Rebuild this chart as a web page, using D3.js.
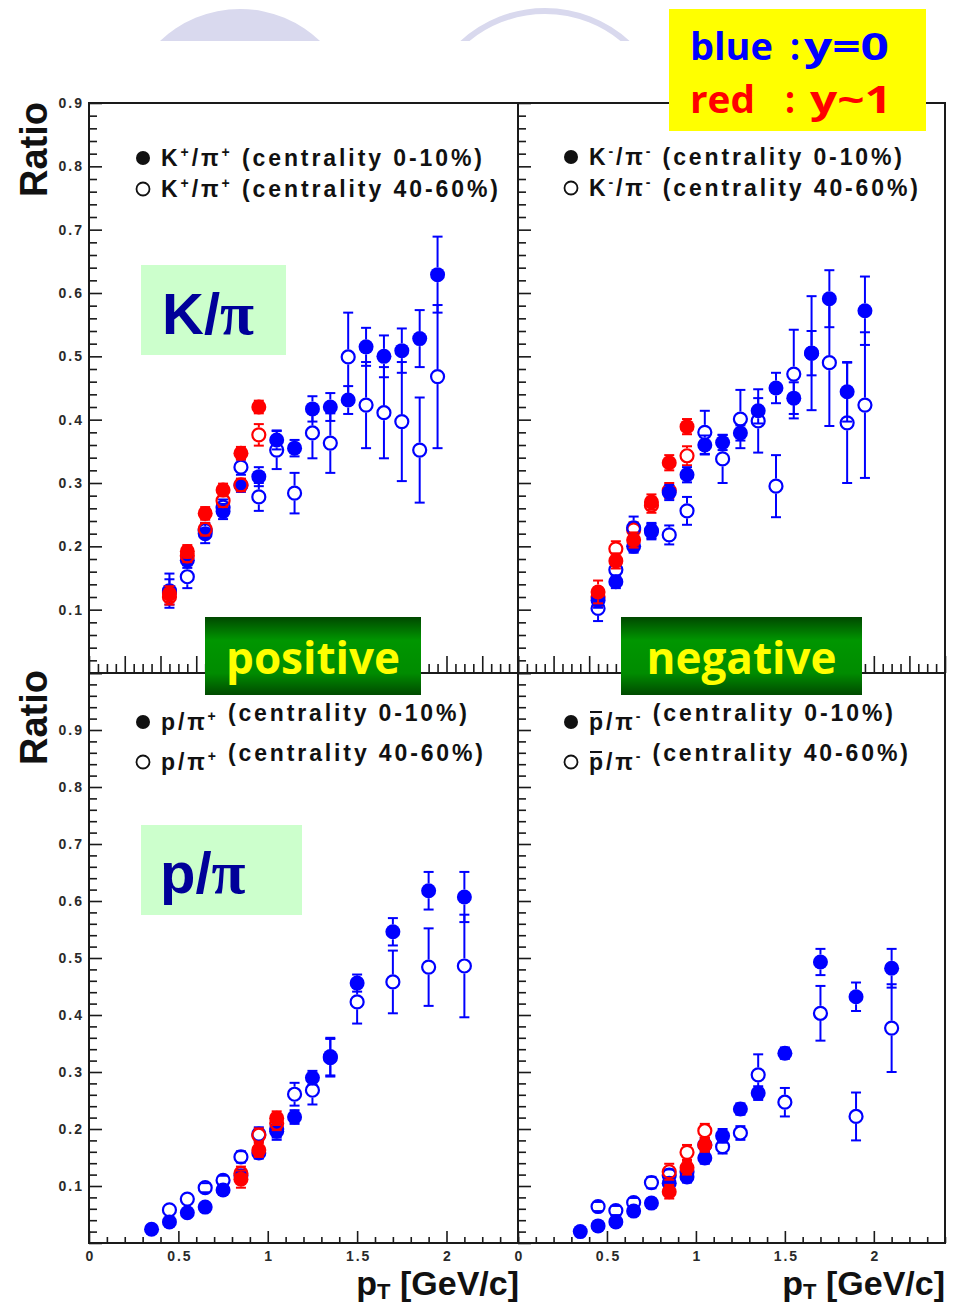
<!DOCTYPE html>
<html><head><meta charset="utf-8">
<script src="https://cdn.jsdelivr.net/npm/d3@7"></script>
<style>
html,body{margin:0;padding:0;background:#fff;}
svg{display:block;}
</style></head>
<body>
<svg id="chart" width="956" height="1305"></svg>
<script>
// ---------------- DATA ----------------
// transverse momentum bins [GeV/c]
const ptK = [0.45,0.55,0.65,0.75,0.85,0.95,1.05,1.15,1.25,1.35,1.45,1.55,1.65,1.75,1.85,1.95];
const ptKred = [0.45,0.55,0.65,0.75,0.85,0.95];
const ptP = [0.35,0.45,0.55,0.65,0.75,0.85,0.95,1.05,1.15,1.25,1.35,1.5,1.7,1.9,2.1];
const ptPopen = [0.45,0.55,0.65,0.75,0.85,0.95,1.05,1.15,1.25,1.35,1.5,1.7,1.9,2.1];
const ptPred = [0.85,0.95,1.05];

// K+/pi+  (y=0 blue, y~1 red)
const kPosCentral     = [0.130,0.178,0.220,0.255,0.296,0.310,0.368,0.355,0.417,0.420,0.431,0.515,0.500,0.509,0.528,0.629];
const kPosCentralErr  = [0.027,0.012,0.015,0.012,0.010,0.015,0.015,0.013,0.020,0.022,0.022,0.030,0.033,0.035,0.045,0.060];
const kPosPeriph      = [0.128,0.152,0.225,0.262,0.325,0.278,0.352,0.284,0.379,0.363,0.499,0.423,0.411,0.397,0.352,0.468];
const kPosPeriphErr   = [0.020,0.018,0.012,0.012,0.012,0.022,0.030,0.032,0.040,0.047,0.070,0.068,0.072,0.094,0.083,0.113];
const kPosCentralY1   = [0.125,0.192,0.252,0.289,0.347,0.420];
const kPosCentralY1Err= [0.012,0.010,0.010,0.010,0.010,0.010];
const kPosPeriphY1    = [0.120,0.185,0.227,0.272,0.297,0.376];
const kPosPeriphY1Err = [0.012,0.010,0.010,0.010,0.010,0.017];

// K-/pi-
const kNegCentral     = [0.115,0.144,0.200,0.223,0.285,0.313,0.360,0.364,0.379,0.414,0.450,0.434,0.505,0.591,0.444,0.572];
const kNegCentralErr  = [0.012,0.010,0.010,0.012,0.012,0.012,0.015,0.012,0.012,0.020,0.024,0.025,0.035,0.045,0.047,0.054];
const kNegPeriph      = [0.102,0.163,0.229,0.225,0.218,0.256,0.380,0.338,0.401,0.398,0.295,0.472,0.505,0.490,0.395,0.423];
const kNegPeriphErr   = [0.020,0.012,0.018,0.012,0.015,0.022,0.034,0.038,0.046,0.050,0.049,0.070,0.090,0.100,0.095,0.115];
const kNegCentralY1   = [0.128,0.177,0.210,0.270,0.332,0.389];
const kNegCentralY1Err= [0.018,0.012,0.012,0.012,0.012,0.012];
const kNegPeriphY1    = [0.120,0.196,0.226,0.265,0.288,0.343];
const kNegPeriphY1Err = [0.015,0.012,0.012,0.012,0.012,0.015];

// p/pi+
const pPosCentral     = [0.024,0.037,0.053,0.063,0.093,0.118,0.158,0.196,0.221,0.290,0.327,0.456,0.546,0.618,0.607];
const pPosCentralErr  = [0.005,0.006,0.006,0.006,0.008,0.010,0.010,0.015,0.012,0.012,0.033,0.015,0.024,0.033,0.044];
const pPosPeriph      = [0.058,0.077,0.097,0.110,0.151,0.191,0.200,0.261,0.268,0.325,0.423,0.458,0.484,0.486];
const pPosPeriphErr   = [0.006,0.007,0.008,0.008,0.010,0.012,0.015,0.020,0.025,0.033,0.038,0.055,0.068,0.090];
const pPosCentralY1   = [0.112,0.163,0.219];
const pPosCentralY1Err= [0.015,0.012,0.012];
const pPosPeriphY1    = [0.122,0.189,0.210];
const pPosPeriphY1Err = [0.012,0.012,0.012];

// pbar/pi-
const pNegCentral     = [0.020,0.030,0.037,0.056,0.070,0.105,0.116,0.149,0.188,0.235,0.263,0.333,0.493,0.432,0.482];
const pNegCentralErr  = [0.004,0.005,0.006,0.007,0.008,0.010,0.010,0.010,0.012,0.010,0.012,0.010,0.023,0.025,0.034];
const pNegPeriph      = [0.064,0.057,0.071,0.106,0.119,0.125,0.172,0.169,0.193,0.295,0.247,0.403,0.222,0.377];
const pNegPeriphErr   = [0.008,0.008,0.008,0.010,0.010,0.010,0.012,0.012,0.012,0.036,0.025,0.048,0.042,0.077];
const pNegCentralY1   = [0.090,0.132,0.172];
const pNegCentralY1Err= [0.012,0.012,0.012];
const pNegPeriphY1    = [0.125,0.159,0.197];
const pNegPeriphY1Err = [0.014,0.013,0.012];

// axis tick labels
const yTickLabelsTop = [0.1,0.2,0.3,0.4,0.5,0.6,0.7,0.8,0.9];
const yTickLabelsBottom = [0.1,0.2,0.3,0.4,0.5,0.6,0.7,0.8,0.9];
const xTickLabels = [0,0.5,1,1.5,2];

// legend texts
const legendTL = [["K","+","/π","+"," (centrality 0-10%)"],["K","+","/π","+"," (centrality 40-60%)"]];
const legendTR = [["K","-","/π","-"," (centrality 0-10%)"],["K","-","/π","-"," (centrality 40-60%)"]];
const legendBL = [["p/π","+",""," ","(centrality 0-10%)"],["p/π","+",""," ","(centrality 40-60%)"]];
const legendBR = [["p/π","-",""," ","(centrality 0-10%)"],["p/π","-",""," ","(centrality 40-60%)"]];

// ---------------- DRAW ----------------
const svg = d3.select("#chart");
const BLUE = "#0000ff", RED = "#ff0000";
const SANS = "'Liberation Sans', Arial, Helvetica, sans-serif";
const defs = svg.append("defs");
const grad = defs.append("linearGradient").attr("id","greenGrad").attr("x1",0).attr("x2",0).attr("y1",0).attr("y2",1);
grad.append("stop").attr("offset","0%").attr("stop-color","#004800");
grad.append("stop").attr("offset","30%").attr("stop-color","#009600");
grad.append("stop").attr("offset","72%").attr("stop-color","#008c00");
grad.append("stop").attr("offset","100%").attr("stop-color","#004a00");

// top decoration
const clip = defs.append("clipPath").attr("id","decoClip");
clip.append("rect").attr("x",0).attr("y",0).attr("width",956).attr("height",41);
const deco = svg.append("g").attr("clip-path","url(#decoClip)");
deco.append("circle").attr("cx",240).attr("cy",125).attr("r",116).attr("fill","#d9d9ee");
deco.append("circle").attr("cx",545).attr("cy",133).attr("r",122).attr("fill","none").attr("stroke","#d9d9ee").attr("stroke-width",6);

const X0L = 89, X1L = 518, X0R = 518, X1R = 945;
const YT = 103, YM = 673, YB = 1243;

const panels = [
  {x0:X0L,x1:X1L,yTop:YT,yBot:YM,ymax:0.9,top:true,left:true},
  {x0:X0R,x1:X1R,yTop:YT,yBot:YM,ymax:0.9,top:true,left:false},
  {x0:X0L,x1:X1L,yTop:YM,yBot:YB,ymax:1.0,top:false,left:true},
  {x0:X0R,x1:X1R,yTop:YM,yBot:YB,ymax:1.0,top:false,left:false}
];
panels.forEach(p=>{
  p.x = d3.scaleLinear().domain([0,2.4]).range([p.x0,p.x1]);
  p.y = d3.scaleLinear().domain([0,p.ymax]).range([p.yBot,p.yTop]);
});

function styleAxis(g){
  g.select(".domain").remove();
  g.selectAll(".tick line").attr("stroke","#1a1a1a").attr("stroke-width",1.6);
}

panels.forEach(p=>{
  const g = svg.append("g");
  const yMaj = d3.range(0, p.ymax+1e-6, 0.1).map(v=>+v.toFixed(2));
  const yMin = d3.range(0, p.ymax+1e-6, 0.02).map(v=>+v.toFixed(2)).filter(v=>Math.abs(v*10-Math.round(v*10))>1e-6);
  g.append("g").attr("transform",`translate(${p.x0},0)`)
    .call(d3.axisRight(p.y).tickValues(yMaj).tickSize(13).tickFormat("")).call(styleAxis);
  g.append("g").attr("transform",`translate(${p.x0},0)`)
    .call(d3.axisRight(p.y).tickValues(yMin).tickSize(8).tickFormat("")).call(styleAxis);
  if(p.top){
    const xMaj = d3.range(0,2.41,0.2).map(v=>+v.toFixed(2));
    const xMin = d3.range(0,2.41,0.05).map(v=>+v.toFixed(2)).filter(v=>Math.abs(v*5-Math.round(v*5))>1e-6);
    g.append("g").attr("transform",`translate(0,${p.yBot})`)
      .call(d3.axisTop(p.x).tickValues(xMaj).tickSize(17).tickFormat("")).call(styleAxis);
    g.append("g").attr("transform",`translate(0,${p.yBot})`)
      .call(d3.axisTop(p.x).tickValues(xMin).tickSize(9).tickFormat("")).call(styleAxis);
  } else {
    const xMaj = d3.range(0,2.41,0.5).map(v=>+v.toFixed(2));
    const xMin = d3.range(0,2.41,0.1).map(v=>+v.toFixed(2)).filter(v=>Math.abs(v*2-Math.round(v*2))>1e-6);
    g.append("g").attr("transform",`translate(0,${p.yBot})`)
      .call(d3.axisTop(p.x).tickValues(xMaj).tickSize(12).tickFormat("")).call(styleAxis);
    g.append("g").attr("transform",`translate(0,${p.yBot})`)
      .call(d3.axisTop(p.x).tickValues(xMin).tickSize(6).tickFormat("")).call(styleAxis);
    const xl = g.append("g").attr("transform",`translate(0,${p.yBot+8})`)
      .call(d3.axisBottom(p.x).tickValues(xTickLabels).tickSize(0).tickPadding(0).tickFormat(d=>String(d)));
    xl.select(".domain").remove();
    xl.selectAll("text").attr("font-family",SANS).attr("font-weight","bold").attr("font-size",14)
      .attr("fill","#2a2a2a").attr("letter-spacing","2px").attr("dx","1px");
  }
  if(p.left){
    const lab = p.top ? yTickLabelsTop : yTickLabelsBottom;
    const yl = g.append("g").attr("transform",`translate(${p.x0-5},0)`)
      .call(d3.axisLeft(p.y).tickValues(lab).tickSize(0).tickPadding(0).tickFormat(d3.format(".1f")));
    yl.select(".domain").remove();
    yl.selectAll("text").attr("font-family",SANS).attr("font-weight","bold").attr("font-size",14)
      .attr("fill","#2a2a2a").attr("letter-spacing","2px");
  }
});

// frames
const fr = svg.append("g").attr("fill","none").attr("stroke","#1a1a1a").attr("stroke-width",2);
fr.append("rect").attr("x",X0L).attr("y",YT).attr("width",X1R-X0L).attr("height",YB-YT);
fr.append("line").attr("x1",X1L).attr("x2",X1L).attr("y1",YT).attr("y2",YB);
fr.append("line").attr("x1",X0L).attr("x2",X1R).attr("y1",YM).attr("y2",YM);

// data series
function series(p, xs, vs, es, color, filled){
  const g = svg.append("g");
  const r = 7.5;
  xs.forEach((xv,i)=>{
    const cx = p.x(xv), cy = p.y(vs[i]);
    const yHi = p.y(vs[i]+es[i]), yLo = p.y(vs[i]-es[i]);
    if(cy - yHi > r) g.append("line").attr("x1",cx).attr("x2",cx).attr("y1",yHi).attr("y2",cy-r).attr("stroke",color).attr("stroke-width",2);
    if(yLo - cy > r) g.append("line").attr("x1",cx).attr("x2",cx).attr("y1",cy+r).attr("y2",yLo).attr("stroke",color).attr("stroke-width",2);
    if(cy - yHi > r*0.6){
      g.append("line").attr("x1",cx-5).attr("x2",cx+5).attr("y1",yHi).attr("y2",yHi).attr("stroke",color).attr("stroke-width",2);
      g.append("line").attr("x1",cx-5).attr("x2",cx+5).attr("y1",yLo).attr("y2",yLo).attr("stroke",color).attr("stroke-width",2);
    }
    if(filled) g.append("circle").attr("cx",cx).attr("cy",cy).attr("r",r).attr("fill",color);
    else g.append("circle").attr("cx",cx).attr("cy",cy).attr("r",r-1).attr("fill","none").attr("stroke",color).attr("stroke-width",2.2);
  });
}
const [TL,TR,BL,BR] = panels;
series(TL, ptK, kPosPeriph, kPosPeriphErr, BLUE, false);
series(TL, ptK, kPosCentral, kPosCentralErr, BLUE, true);
series(TL, ptKred, kPosPeriphY1, kPosPeriphY1Err, RED, false);
series(TL, ptKred, kPosCentralY1, kPosCentralY1Err, RED, true);

series(TR, ptKred, kNegPeriphY1, kNegPeriphY1Err, RED, false);
series(TR, ptK, kNegPeriph, kNegPeriphErr, BLUE, false);
series(TR, ptK, kNegCentral, kNegCentralErr, BLUE, true);
series(TR, ptKred, kNegCentralY1, kNegCentralY1Err, RED, true);

series(BL, ptPopen, pPosPeriph, pPosPeriphErr, BLUE, false);
series(BL, ptP, pPosCentral, pPosCentralErr, BLUE, true);
series(BL, ptPred, pPosPeriphY1, pPosPeriphY1Err, RED, false);
series(BL, ptPred, pPosCentralY1, pPosCentralY1Err, RED, true);

series(BR, ptPopen, pNegPeriph, pNegPeriphErr, BLUE, false);
series(BR, ptP, pNegCentral, pNegCentralErr, BLUE, true);
series(BR, ptPred, pNegPeriphY1, pNegPeriphY1Err, RED, false);
series(BR, ptPred, pNegCentralY1, pNegCentralY1Err, RED, true);

// legends
function legend(x, yBase, rows, widths, overbar){
  const g = svg.append("g");
  rows.forEach((parts,i)=>{
    const yb = yBase[i];
    const m = g.append("circle").attr("cx",x-18).attr("cy",yb-8).attr("r",i===0?7:6.5);
    if(i===0) m.attr("fill","#111"); else m.attr("fill","none").attr("stroke","#111").attr("stroke-width",1.8);
    const t = g.append("text").attr("x",x).attr("y",yb).attr("font-family",SANS).attr("font-weight","bold")
      .attr("font-size",23).attr("fill","#111").attr("textLength",widths[i]).attr("lengthAdjust","spacing");
    t.append("tspan").text(parts[0]);
    t.append("tspan").attr("dy",-9).attr("font-size",14).text(parts[1]);
    t.append("tspan").attr("dy",9).text(parts[2]);
    if(parts[2]!=="" ){ t.append("tspan").attr("dy",-9).attr("font-size",14).text(parts[3]); t.append("tspan").attr("dy",9).text(parts[4]); }
    else { t.append("tspan").text(parts[3]+parts[4]); }
    if(overbar) g.append("line").attr("x1",x+1).attr("x2",x+13).attr("y1",yb-18).attr("y2",yb-18).attr("stroke","#111").attr("stroke-width",2);
  });
}
legend(161,[166,197],legendTL,[321,337],false);
legend(589,[165,196],legendTR,[313,329],false);
legend(161,[730,770],legendBL,[306,322],false);
legend(589,[730,770],legendBR,[304,319],true);

// axis titles
svg.append("text").attr("transform","translate(47,102) rotate(-90)").attr("text-anchor","end")
  .attr("font-family",SANS).attr("font-weight","bold").attr("font-size",38).attr("fill","#111").text("Ratio");
svg.append("text").attr("transform","translate(47,670) rotate(-90)").attr("text-anchor","end")
  .attr("font-family",SANS).attr("font-weight","bold").attr("font-size",38).attr("fill","#111").text("Ratio");
[519,945].forEach(xe=>{
  const t = svg.append("text").attr("x",xe).attr("y",1295).attr("text-anchor","end")
    .attr("font-family",SANS).attr("font-weight","bold").attr("font-size",34).attr("fill","#111");
  t.append("tspan").text("p");
  t.append("tspan").attr("dy",4).attr("font-size",22).text("T");
  t.append("tspan").attr("dy",-4).text(" [GeV/c]");
});

// green labels
function bigLabel(x,y,w,h,a,tx,ty){
  svg.append("rect").attr("x",x).attr("y",y).attr("width",w).attr("height",h).attr("fill","#ccffcc");
  const t = svg.append("text").attr("x",tx).attr("y",ty).attr("font-family",SANS).attr("font-weight","bold")
    .attr("font-size",58).attr("fill","#000099");
  t.append("tspan").text(a+"/");
  t.append("tspan").attr("font-family","'Liberation Serif', 'Times New Roman', serif").attr("font-weight","bold").attr("font-size",62).text("π");
}
bigLabel(141,265,145,90,"K",162,334);
bigLabel(141,825,161,90,"p",160,893);

// positive / negative boxes
function chargeBox(x,w,label){
  svg.append("rect").attr("x",x).attr("y",617).attr("width",w).attr("height",78).attr("fill","url(#greenGrad)");
  svg.append("text").attr("x",x+w/2).attr("y",674).attr("text-anchor","middle")
    .attr("font-family","'Open Sans', 'DejaVu Sans', sans-serif").attr("font-weight","bold").attr("font-size",44)
    .attr("fill","#ffff00").text(label);
}
chargeBox(205,216,"positive");
chargeBox(621,241,"negative");

// yellow key
svg.append("rect").attr("x",669).attr("y",9).attr("width",257).attr("height",122).attr("fill","#ffff00");
const keyFont = "'Open Sans', 'DejaVu Sans', sans-serif";
function keyText(g,x,y,w,s){
  g.append("text").attr("x",x).attr("y",y).attr("textLength",w).attr("lengthAdjust","spacingAndGlyphs").text(s);
}
const k1 = svg.append("g").attr("font-family",keyFont).attr("font-weight","bold").attr("font-size",38).attr("fill","#0000ff");
keyText(k1,690,60,83,"blue");
keyText(k1,790,60,10,":");
keyText(k1,804,60,85,"y=0");
const k2 = svg.append("g").attr("font-family",keyFont).attr("font-weight","bold").attr("font-size",38).attr("fill","#ff0000");
keyText(k2,690,113,65,"red");
keyText(k2,785,113,10,":");
keyText(k2,810,113,82,"y~1");
</script>
</body></html>
